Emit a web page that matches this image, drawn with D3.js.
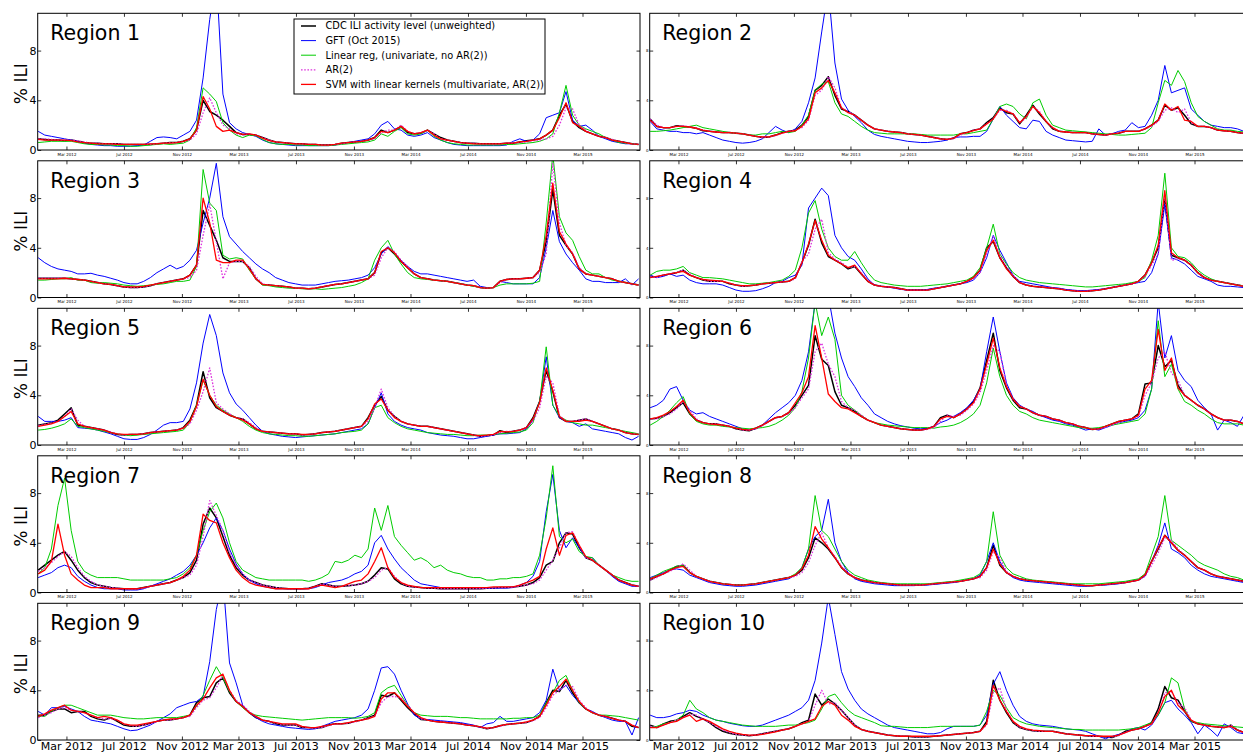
<!DOCTYPE html>
<html>
<head>
<meta charset="utf-8">
<script src="https://cdn.jsdelivr.net/npm/d3@7"></script>
<style>
  body { margin: 0; background: #fff; }
  svg { display: block; font-family: "DejaVu Sans", sans-serif; }
</style>
</head>
<body>
<svg id="chart" width="1243" height="753"></svg>
<script>
// % ILI per region, every 2 weeks starting 1 Jan 2012
const startDate = new Date(2012, 0, 1);
const stepDays = 14;

const seriesKeys = ["cdc", "gft", "lin", "ar2", "svm"];
const seriesNames = [
  "CDC ILI activity level (unweighted)",
  "GFT (Oct 2015)",
  "Linear reg, (univariate, no AR(2))",
  "AR(2)",
  "SVM with linear kernels (multivariate, AR(2))"
];
const regionNames = ["Region 1", "Region 2", "Region 3", "Region 4", "Region 5",
  "Region 6", "Region 7", "Region 8", "Region 9", "Region 10"];
const xTickDates = ["2012-03-01", "2012-07-01", "2012-11-01", "2013-03-01", "2013-07-01",
  "2013-11-01", "2014-03-01", "2014-07-01", "2014-11-01", "2015-03-01"];
const xTickLabels = ["Mar 2012", "Jul 2012", "Nov 2012", "Mar 2013", "Jul 2013",
  "Nov 2013", "Mar 2014", "Jul 2014", "Nov 2014", "Mar 2015"];
const yTicks = [0, 4, 8];

// Region 1
const r1_cdc = [0.9,0.85,0.8,0.8,0.75,0.8,0.7,0.6,0.55,0.55,0.5,0.5,0.5,0.45,0.45,0.45,0.45,0.45,0.5,0.55,0.6,0.6,0.7,
  0.9,1.6,4.0,3.1,2.8,2.4,1.9,1.4,1.25,1.25,1.2,1.0,0.8,0.65,0.6,0.55,0.5,0.5,0.45,0.45,0.4,0.4,0.45,
  0.55,0.6,0.65,0.7,0.8,1.0,1.6,1.4,1.6,1.9,1.4,1.3,1.35,1.6,1.3,1.0,0.8,0.7,0.6,0.55,0.55,0.5,0.5,
  0.5,0.5,0.55,0.55,0.65,0.75,0.8,0.9,1.2,1.6,2.8,3.7,2.3,1.8,1.5,1.3,1.1,1.0,0.8,0.7,0.6,0.5,0.45];
const r1_gft = [1.5,1.2,1.1,1.0,0.9,0.8,0.7,0.55,0.45,0.4,0.35,0.35,0.3,0.3,0.3,0.35,0.4,0.7,1.0,1.05,1.0,0.9,1.2,
  1.5,2.4,5.8,10.5,14.0,4.5,2.2,1.7,1.4,1.25,1.1,0.8,0.6,0.5,0.45,0.4,0.35,0.35,0.35,0.35,0.35,0.35,0.4,
  0.5,0.6,0.7,0.8,0.9,1.3,2.0,2.3,1.7,1.6,1.2,1.1,1.2,1.4,1.0,0.8,0.6,0.45,0.4,0.35,0.35,0.35,0.35,
  0.35,0.35,0.4,0.7,0.9,0.7,0.8,1.3,2.6,2.8,3.0,4.7,2.4,1.9,2.0,1.6,1.1,0.9,0.7,0.6,0.5,0.5,0.45];
const r1_lin = [0.6,0.65,0.7,0.7,0.7,0.7,0.6,0.5,0.45,0.45,0.4,0.4,0.35,0.35,0.3,0.3,0.35,0.4,0.45,0.5,0.45,0.5,0.55,
  0.8,1.8,5.0,4.5,3.9,2.2,1.6,1.2,1.0,1.2,1.15,0.85,0.6,0.5,0.45,0.45,0.4,0.4,0.35,0.35,0.35,0.35,0.4,
  0.45,0.5,0.55,0.6,0.65,0.8,1.3,1.1,1.5,1.8,1.3,1.2,1.3,1.6,1.1,0.8,0.6,0.5,0.45,0.4,0.4,0.4,0.4,
  0.4,0.4,0.45,0.45,0.5,0.55,0.6,0.7,0.9,1.3,3.0,5.2,2.8,2.0,1.7,1.5,1.3,1.0,0.8,0.6,0.55,0.5,0.45];
const r1_ar2 = [0.9,0.9,0.85,0.8,0.8,0.8,0.75,0.65,0.55,0.55,0.5,0.5,0.5,0.45,0.45,0.45,0.45,0.45,0.5,0.55,0.6,0.6,0.7,
  0.8,1.3,3.0,4.2,3.0,2.0,1.7,1.3,1.2,1.3,1.2,1.0,0.8,0.65,0.6,0.55,0.5,0.5,0.45,0.45,0.4,0.4,0.45,
  0.5,0.6,0.65,0.7,0.8,0.9,1.4,1.6,1.6,2.0,1.5,1.3,1.4,1.6,1.3,0.9,0.8,0.7,0.6,0.55,0.55,0.5,0.5,
  0.5,0.5,0.55,0.55,0.6,0.65,0.75,0.8,0.9,1.1,2.0,3.4,3.3,2.0,1.6,1.3,1.1,1.0,0.85,0.7,0.6,0.5,0.45];
const r1_svm = [0.85,0.8,0.8,0.8,0.8,0.75,0.65,0.6,0.55,0.5,0.5,0.5,0.45,0.45,0.45,0.45,0.45,0.5,0.5,0.55,0.55,0.6,0.7,
  0.9,1.6,4.3,3.3,1.9,1.5,1.6,1.4,1.25,1.3,1.2,0.95,0.75,0.65,0.6,0.55,0.5,0.5,0.45,0.45,0.4,0.4,0.45,
  0.55,0.6,0.65,0.7,0.8,1.0,1.5,1.4,1.6,1.9,1.5,1.3,1.4,1.6,1.2,0.9,0.8,0.7,0.6,0.55,0.5,0.5,0.5,
  0.5,0.5,0.55,0.55,0.65,0.7,0.8,0.9,1.2,1.6,2.6,3.8,2.2,1.9,1.5,1.3,1.1,1.0,0.8,0.7,0.6,0.5,0.45];

// Region 2
const r2_cdc = [2.5,1.9,1.8,1.8,1.95,1.9,1.85,1.75,1.55,1.5,1.45,1.4,1.4,1.35,1.3,1.2,1.1,1.0,1.05,1.2,1.4,1.5,1.6,
  2.0,2.7,4.8,5.2,5.9,4.4,3.3,3.1,2.8,2.4,2.0,1.7,1.6,1.5,1.45,1.4,1.3,1.25,1.2,1.1,1.0,0.9,0.85,
  0.95,1.3,1.4,1.6,1.7,2.2,2.6,3.4,3.0,2.9,2.1,2.8,3.6,2.9,2.3,1.7,1.5,1.45,1.4,1.4,1.4,1.3,1.25,
  1.2,1.3,1.35,1.5,1.5,1.5,1.7,2.0,2.4,3.6,3.2,3.4,2.8,2.1,1.9,1.9,1.8,1.6,1.55,1.5,1.4,1.35,1.3];
const r2_gft = [2.3,1.7,1.6,1.5,1.5,1.4,1.4,1.3,1.4,1.2,1.0,0.8,0.7,0.6,0.55,0.6,0.7,0.9,1.4,1.9,1.6,1.4,1.7,
  2.3,3.8,5.8,9.5,13.0,7.0,4.1,3.2,2.7,2.2,1.6,1.25,1.1,1.0,0.9,0.8,0.7,0.65,0.6,0.6,0.65,0.7,0.8,
  1.0,1.05,1.05,1.1,1.1,1.5,2.5,3.5,2.8,2.3,1.8,1.7,2.4,2.3,1.5,1.2,1.0,0.8,0.75,0.7,0.65,0.7,1.7,
  1.2,1.3,1.5,1.6,2.2,1.8,1.9,2.8,4.0,6.8,4.6,4.8,5.0,3.3,2.8,2.3,2.0,1.9,1.8,1.8,1.7,1.5,1.3];
const r2_lin = [1.5,1.5,1.55,1.6,1.7,1.8,1.9,2.0,1.8,1.7,1.6,1.5,1.4,1.35,1.3,1.2,1.2,1.3,1.3,1.4,1.5,1.4,1.5,
  2.0,2.8,4.8,5.3,5.5,3.8,2.9,2.7,2.3,1.9,1.6,1.4,1.35,1.3,1.3,1.3,1.3,1.3,1.25,1.2,1.2,1.2,1.2,
  1.2,1.3,1.3,1.4,1.5,1.6,2.5,3.5,3.7,3.5,2.9,2.5,3.8,4.1,2.8,2.0,1.8,1.6,1.55,1.5,1.45,1.4,1.35,
  1.3,1.25,1.2,1.2,1.25,1.3,1.35,1.8,3.8,5.6,5.2,6.4,5.5,3.8,2.7,2.3,2.0,1.7,1.6,1.6,1.5,1.45,1.4];
const r2_ar2 = [2.5,2.0,1.8,1.8,1.9,1.95,1.85,1.75,1.6,1.5,1.45,1.4,1.4,1.35,1.3,1.2,1.1,1.0,1.05,1.15,1.35,1.5,1.6,
  1.8,2.4,4.4,4.8,5.9,5.0,3.4,3.1,2.8,2.4,2.0,1.7,1.6,1.5,1.45,1.4,1.3,1.25,1.2,1.1,1.0,0.9,0.85,
  0.9,1.2,1.4,1.6,1.7,2.1,2.5,3.2,3.2,2.9,2.2,2.6,3.5,3.1,2.3,1.8,1.5,1.45,1.4,1.4,1.4,1.3,1.25,
  1.2,1.3,1.35,1.5,1.5,1.5,1.7,1.9,2.3,3.2,3.4,3.0,3.3,2.2,1.9,1.9,1.8,1.6,1.55,1.5,1.4,1.35,1.3];
const r2_svm = [2.4,1.9,1.8,1.8,1.9,1.9,1.85,1.75,1.6,1.5,1.45,1.4,1.4,1.35,1.3,1.2,1.1,1.05,1.05,1.2,1.35,1.5,1.55,
  1.9,2.5,4.6,5.0,5.6,4.6,3.4,3.0,2.8,2.4,2.0,1.7,1.6,1.5,1.45,1.4,1.3,1.25,1.2,1.1,1.0,0.9,0.85,
  0.95,1.3,1.4,1.55,1.7,2.1,2.5,3.3,3.1,2.9,2.2,2.7,3.5,3.0,2.3,1.8,1.5,1.45,1.4,1.4,1.4,1.3,1.25,
  1.2,1.3,1.35,1.5,1.5,1.5,1.7,2.0,2.4,3.7,3.2,3.5,2.4,2.3,1.9,1.9,1.8,1.6,1.55,1.5,1.4,1.35,1.3];

// Region 3
const r3_cdc = [1.55,1.55,1.55,1.55,1.55,1.5,1.45,1.4,1.3,1.2,1.1,1.05,0.95,0.85,0.8,0.8,0.85,0.95,1.1,1.2,1.3,1.4,1.5,
  1.8,2.6,7.0,5.8,4.6,3.2,2.9,2.9,2.9,2.4,1.5,1.05,1.0,0.95,0.9,0.85,0.75,0.75,0.7,0.75,0.85,0.95,1.05,
  1.1,1.2,1.3,1.4,1.5,2.0,3.6,4.0,3.5,2.9,2.4,1.9,1.6,1.5,1.4,1.35,1.3,1.2,1.1,1.0,0.95,0.8,0.75,
  0.8,1.3,1.45,1.5,1.5,1.55,1.6,2.2,4.5,8.7,5.0,4.2,3.5,2.3,1.9,1.8,1.7,1.6,1.5,1.3,1.2,1.1,1.0];
const r3_gft = [3.2,2.8,2.5,2.3,2.2,2.1,1.9,1.9,1.95,1.8,1.7,1.55,1.4,1.2,1.1,1.1,1.3,1.6,2.0,2.3,2.6,2.3,2.5,
  3.0,3.8,6.0,8.0,10.8,6.5,4.9,4.3,3.7,3.2,2.7,2.3,2.0,1.6,1.4,1.2,1.1,1.0,1.0,1.0,1.1,1.2,1.3,
  1.35,1.4,1.5,1.6,1.8,2.4,3.5,4.1,3.6,3.0,2.5,2.1,1.9,1.9,1.8,1.7,1.6,1.5,1.4,1.3,1.4,0.9,0.8,
  0.8,1.3,1.2,1.1,1.1,1.1,1.1,1.6,4.0,7.0,4.5,3.5,2.8,2.2,1.5,1.3,1.3,1.2,1.2,1.2,1.5,1.0,1.5];
const r3_lin = [1.4,1.4,1.45,1.5,1.5,1.6,1.4,1.4,1.2,1.15,1.2,1.15,1.1,1.0,0.95,0.9,0.95,1.0,1.05,1.1,1.2,1.3,1.3,
  1.4,2.5,10.3,7.6,7.0,3.4,3.1,3.2,3.1,2.2,1.5,1.0,0.95,0.85,0.8,0.75,0.75,0.7,0.7,0.7,0.65,0.7,0.75,
  0.8,0.9,1.0,1.2,1.5,3.0,4.0,4.6,3.5,2.7,2.0,1.6,1.5,1.45,1.4,1.35,1.3,1.2,1.1,1.0,0.9,0.8,0.75,
  0.8,1.0,1.1,1.1,1.1,1.1,1.15,1.3,6.0,11.5,6.5,5.2,4.6,3.3,2.2,1.9,1.9,1.6,1.4,1.3,1.2,1.1,1.0];
const r3_ar2 = [1.55,1.55,1.55,1.55,1.55,1.5,1.45,1.4,1.3,1.2,1.1,1.05,0.95,0.85,0.8,0.8,0.85,0.95,1.1,1.2,1.3,1.4,1.5,
  1.6,2.2,5.0,7.5,4.5,1.5,2.8,2.9,2.9,2.5,1.7,1.1,1.0,0.95,0.9,0.85,0.75,0.75,0.7,0.75,0.85,0.95,1.05,
  1.1,1.2,1.3,1.4,1.5,1.8,3.2,4.0,3.7,3.0,2.5,1.9,1.6,1.5,1.4,1.35,1.3,1.2,1.1,1.0,0.95,0.8,0.75,
  0.8,1.2,1.45,1.5,1.5,1.55,1.6,2.0,3.5,10.8,6.0,4.2,3.6,2.4,1.9,1.8,1.7,1.6,1.5,1.3,1.2,1.1,1.0];
const r3_svm = [1.5,1.5,1.5,1.5,1.55,1.5,1.45,1.4,1.3,1.2,1.1,1.05,0.95,0.85,0.85,0.85,0.9,1.0,1.1,1.2,1.3,1.4,1.5,
  1.8,2.6,8.0,6.0,3.0,2.8,2.8,3.0,3.0,2.3,1.5,1.05,1.0,0.95,0.9,0.85,0.75,0.75,0.7,0.75,0.85,0.95,1.05,
  1.1,1.2,1.3,1.4,1.5,2.0,3.7,4.0,3.6,2.9,2.4,1.9,1.6,1.5,1.4,1.35,1.3,1.2,1.1,1.0,0.95,0.8,0.75,
  0.8,1.3,1.45,1.5,1.5,1.55,1.6,2.2,5.0,9.2,5.3,4.3,3.5,2.3,1.9,1.8,1.7,1.6,1.5,1.3,1.2,1.1,1.0];

// Region 4
const r4_cdc = [1.7,1.65,1.8,1.9,2.0,2.2,1.8,1.6,1.4,1.3,1.3,1.3,1.1,1.0,0.9,0.95,1.0,1.1,1.15,1.2,1.25,1.3,1.6,
  2.8,4.2,6.3,4.4,3.3,3.0,2.7,2.3,2.5,1.9,1.3,1.0,0.9,0.85,0.8,0.7,0.6,0.6,0.6,0.6,0.7,0.8,0.9,
  1.0,1.1,1.3,1.6,2.2,4.0,4.5,3.2,2.4,1.7,1.2,1.0,0.9,0.85,0.8,0.75,0.7,0.6,0.55,0.5,0.5,0.55,0.6,
  0.7,0.8,0.9,1.0,1.1,1.3,1.8,2.8,4.0,7.9,3.4,3.2,3.0,2.6,2.0,1.6,1.4,1.3,1.2,1.1,1.0,0.9,0.8];
const r4_gft = [1.8,1.6,1.7,1.9,1.7,1.8,1.4,1.2,1.1,1.1,1.1,1.0,0.8,0.6,0.5,0.5,0.55,0.7,0.9,1.2,1.3,1.6,1.8,
  2.6,7.2,8.0,8.8,8.2,5.0,4.0,3.3,3.0,2.3,1.5,1.0,0.9,0.85,0.75,0.65,0.6,0.6,0.6,0.65,0.75,0.8,0.9,
  1.0,1.1,1.2,1.4,2.0,3.2,5.0,3.8,2.8,1.8,1.3,1.2,1.1,1.0,0.9,0.8,0.75,0.65,0.6,0.55,0.55,0.6,0.65,
  0.7,0.8,0.9,1.0,1.1,1.2,1.3,2.0,3.5,7.5,3.2,3.0,2.7,2.2,1.7,1.5,1.3,1.0,0.9,0.9,0.85,0.8,0.8];
const r4_lin = [1.8,2.1,2.2,2.2,2.3,2.5,2.0,1.8,1.6,1.6,1.55,1.5,1.4,1.3,1.2,1.1,1.1,1.15,1.2,1.3,1.4,1.7,2.2,
  4.0,6.8,7.8,5.5,4.0,3.3,3.0,3.0,3.7,2.8,2.0,1.4,1.2,1.1,1.0,0.95,0.9,0.9,0.9,0.95,1.0,1.05,1.1,
  1.2,1.3,1.4,1.7,2.4,4.0,5.9,3.5,2.7,2.0,1.6,1.4,1.3,1.2,1.15,1.1,1.05,1.0,0.95,0.9,0.85,0.85,0.9,
  0.95,1.0,1.05,1.1,1.2,1.3,1.6,3.0,5.0,10.0,4.0,3.3,3.2,2.8,2.2,1.8,1.5,1.3,1.2,1.1,1.0,0.95,0.9];
const r4_ar2 = [1.7,1.6,1.8,1.9,2.0,2.2,1.9,1.6,1.45,1.3,1.3,1.3,1.15,1.0,0.9,0.95,1.0,1.1,1.15,1.2,1.25,1.3,1.5,
  2.9,3.5,5.5,6.3,3.6,3.1,2.8,2.4,2.5,2.0,1.4,1.0,0.9,0.85,0.8,0.7,0.6,0.6,0.6,0.6,0.7,0.8,0.9,
  1.0,1.1,1.3,1.5,2.0,3.5,4.9,3.4,2.5,1.8,1.2,1.0,0.9,0.85,0.8,0.75,0.7,0.6,0.55,0.5,0.5,0.55,0.6,
  0.7,0.8,0.9,1.0,1.1,1.3,1.7,2.6,3.5,8.3,3.0,3.1,3.0,2.6,2.0,1.6,1.4,1.3,1.2,1.1,1.0,0.9,0.8];
const r4_svm = [1.6,1.7,1.8,1.9,2.0,2.1,1.8,1.6,1.45,1.4,1.35,1.3,1.15,1.0,0.95,0.95,1.0,1.1,1.15,1.2,1.25,1.3,1.6,
  2.8,4.3,6.2,4.6,3.4,3.0,2.7,2.4,2.6,1.9,1.3,1.0,0.9,0.85,0.8,0.7,0.6,0.6,0.6,0.6,0.7,0.8,0.9,
  1.0,1.1,1.3,1.6,2.2,3.8,4.6,3.2,2.3,1.7,1.2,1.0,0.9,0.85,0.8,0.75,0.7,0.6,0.55,0.5,0.5,0.55,0.6,
  0.7,0.8,0.9,1.0,1.1,1.3,1.8,2.8,4.2,8.6,3.6,3.2,3.0,2.6,2.0,1.6,1.4,1.3,1.2,1.1,1.0,0.9,0.8];

// Region 5
const r5_cdc = [1.6,1.7,1.8,2.0,2.5,3.0,1.6,1.5,1.4,1.3,1.2,1.0,0.85,0.8,0.85,0.85,0.9,1.0,1.05,1.1,1.15,1.2,1.4,
  2.0,3.2,5.9,3.8,3.0,2.7,2.4,2.2,2.1,1.7,1.3,1.1,1.05,1.0,0.95,0.9,0.9,0.8,0.85,0.9,1.0,1.05,1.1,
  1.2,1.3,1.4,1.5,2.2,3.2,3.9,2.8,2.3,1.9,1.7,1.6,1.5,1.5,1.4,1.3,1.2,1.1,1.0,0.9,0.8,0.7,0.75,
  0.8,1.15,1.0,1.1,1.2,1.4,2.2,3.5,6.0,4.3,2.2,1.9,1.9,2.0,2.1,1.9,1.7,1.5,1.3,1.2,1.0,0.9,0.85];
const r5_gft = [2.3,1.9,1.9,1.9,2.0,2.2,1.4,1.35,1.3,1.2,1.05,0.9,0.7,0.5,0.45,0.45,0.6,0.85,1.2,1.6,1.8,1.8,1.9,
  2.9,5.0,8.2,10.5,8.8,5.8,4.2,3.3,2.8,2.2,1.6,1.1,0.9,0.8,0.7,0.65,0.6,0.65,0.7,0.75,0.8,0.85,0.9,
  1.0,1.1,1.2,1.3,1.7,3.0,4.2,2.5,1.9,1.6,1.4,1.3,1.2,1.0,0.9,0.8,0.75,0.7,0.6,0.5,0.5,0.6,0.7,
  0.8,0.9,0.9,0.95,1.0,1.3,2.0,3.5,7.1,3.2,2.2,1.9,1.8,1.5,1.7,1.3,1.2,1.1,1.0,0.9,0.6,0.4,0.7];
const r5_lin = [1.2,1.25,1.35,1.5,1.7,2.1,1.5,1.4,1.3,1.2,1.1,1.0,0.9,0.8,0.75,0.8,0.85,0.9,0.95,1.0,1.05,1.1,1.2,
  1.8,3.2,5.2,4.0,3.2,2.8,2.5,2.2,1.9,1.5,1.2,1.0,0.9,0.85,0.8,0.75,0.75,0.7,0.7,0.75,0.8,0.85,0.9,
  1.0,1.05,1.1,1.2,1.7,3.0,3.2,2.2,1.8,1.5,1.3,1.2,1.1,1.0,0.95,0.9,0.85,0.85,0.8,0.75,0.75,0.8,0.8,
  0.85,0.9,0.95,1.0,1.05,1.2,1.8,3.5,7.9,3.2,2.3,2.0,1.8,1.7,1.6,1.6,1.5,1.4,1.3,1.2,1.1,1.0,0.9];
const r5_ar2 = [1.55,1.65,1.75,1.9,2.3,2.9,2.0,1.5,1.4,1.3,1.2,1.05,0.9,0.8,0.85,0.85,0.9,1.0,1.05,1.1,1.15,1.2,1.35,
  1.7,2.8,4.3,6.2,3.4,2.9,2.5,2.2,2.1,1.8,1.4,1.1,1.05,1.0,0.95,0.9,0.9,0.8,0.85,0.9,1.0,1.05,1.1,
  1.2,1.3,1.4,1.5,1.9,3.0,4.5,3.0,2.3,1.9,1.7,1.6,1.5,1.5,1.4,1.3,1.2,1.1,1.0,0.9,0.8,0.7,0.75,
  0.8,1.0,1.1,1.1,1.2,1.4,1.9,3.0,5.5,5.0,2.4,1.9,1.9,2.0,2.1,1.9,1.7,1.5,1.3,1.2,1.0,0.9,0.85];
const r5_svm = [1.5,1.6,1.7,1.9,2.3,2.7,1.7,1.5,1.4,1.3,1.2,1.0,0.9,0.85,0.85,0.85,0.9,1.0,1.05,1.1,1.15,1.2,1.35,
  1.9,3.1,5.3,4.0,3.1,2.7,2.4,2.2,2.0,1.7,1.3,1.1,1.05,1.0,0.95,0.9,0.9,0.85,0.85,0.9,1.0,1.05,1.1,
  1.2,1.3,1.4,1.5,2.1,3.3,3.7,2.8,2.2,1.9,1.7,1.6,1.5,1.5,1.4,1.3,1.2,1.1,1.0,0.9,0.8,0.75,0.8,
  0.85,1.1,1.05,1.1,1.2,1.4,2.1,3.4,6.2,4.4,2.3,1.9,1.9,1.9,2.0,1.9,1.7,1.5,1.3,1.2,1.0,0.9,0.85];

// Region 6
const r6_cdc = [2.1,2.15,2.3,2.6,3.0,3.4,2.5,2.0,1.8,1.7,1.7,1.6,1.5,1.3,1.2,1.15,1.35,1.6,1.9,2.2,2.3,2.6,3.2,
  4.0,4.8,8.8,6.9,6.4,4.3,3.2,3.0,2.7,2.3,2.0,1.8,1.6,1.5,1.4,1.3,1.25,1.2,1.2,1.3,1.5,2.2,2.4,
  2.2,2.5,2.9,3.5,4.6,6.8,9.0,6.0,4.6,3.6,3.0,2.9,2.6,2.4,2.3,2.1,2.0,1.8,1.7,1.5,1.4,1.25,1.3,
  1.5,1.7,1.9,2.0,2.1,2.5,4.9,5.0,8.0,6.3,6.8,4.8,4.0,3.6,3.2,2.9,2.5,2.2,2.0,2.0,1.9,1.7,1.6];
const r6_gft = [3.0,3.2,3.6,4.5,4.7,3.6,2.8,2.5,2.6,2.3,2.1,1.9,1.7,1.5,1.3,1.2,1.3,1.6,2.1,2.6,3.0,3.4,4.0,
  5.2,7.5,11.5,14.0,12.0,9.0,7.0,5.5,4.7,3.8,3.2,2.5,2.2,1.9,1.7,1.55,1.45,1.35,1.3,1.35,1.5,1.8,2.0,
  2.3,2.6,3.0,3.6,4.5,7.5,10.3,7.5,5.0,3.8,3.2,2.9,2.7,2.4,2.2,2.0,1.9,1.7,1.6,1.4,1.2,1.3,1.2,
  1.4,1.6,1.8,1.9,2.0,2.2,2.8,4.5,11.5,7.0,8.8,6.0,5.2,4.7,3.6,3.0,2.5,1.2,2.0,1.8,1.5,2.4,2.0];
const r6_lin = [1.6,1.9,2.3,2.8,3.4,3.9,2.5,1.9,1.7,1.6,1.6,1.5,1.45,1.4,1.35,1.3,1.35,1.4,1.5,1.7,2.0,2.4,3.0,
  4.3,7.0,11.5,8.8,10.3,8.5,4.0,3.2,2.8,2.4,2.0,1.8,1.7,1.6,1.55,1.5,1.45,1.4,1.4,1.4,1.35,1.45,1.5,
  1.6,1.8,2.1,2.5,3.2,5.0,7.8,5.5,4.0,3.2,2.7,2.5,2.2,2.0,1.9,1.8,1.7,1.6,1.5,1.4,1.35,1.35,1.4,
  1.5,1.6,1.7,1.8,1.9,2.0,2.5,4.5,10.0,5.5,6.5,4.5,3.5,3.2,2.8,2.5,2.1,1.8,1.7,1.7,1.7,1.6,1.5];
const r6_ar2 = [2.1,2.1,2.3,2.5,2.9,3.5,2.8,2.1,1.8,1.7,1.7,1.6,1.5,1.35,1.2,1.2,1.3,1.55,1.9,2.2,2.3,2.5,3.0,
  3.8,4.5,7.5,8.2,6.5,5.5,3.5,3.0,2.8,2.4,2.0,1.8,1.6,1.5,1.4,1.3,1.25,1.2,1.2,1.25,1.4,1.9,2.4,
  2.3,2.4,2.8,3.3,4.2,6.0,8.0,7.5,4.8,3.7,3.1,2.9,2.6,2.4,2.3,2.1,2.0,1.8,1.7,1.5,1.4,1.25,1.3,
  1.4,1.6,1.8,2.0,2.1,2.3,4.0,5.0,7.0,7.5,5.8,5.2,4.0,3.6,3.2,2.9,2.5,2.2,2.0,2.0,1.9,1.7,1.6];
const r6_svm = [2.1,2.2,2.4,2.7,3.1,3.6,2.6,2.0,1.8,1.7,1.65,1.6,1.5,1.35,1.25,1.2,1.35,1.6,1.9,2.2,2.3,2.6,3.4,
  4.2,5.5,9.6,7.0,4.1,3.5,3.0,2.9,2.6,2.3,2.0,1.8,1.6,1.5,1.4,1.3,1.25,1.2,1.2,1.3,1.5,2.1,2.3,
  2.2,2.5,2.9,3.4,4.5,6.5,8.6,6.2,4.7,3.7,3.1,2.9,2.6,2.4,2.3,2.1,2.0,1.8,1.7,1.5,1.4,1.25,1.3,
  1.5,1.7,1.9,2.0,2.1,2.4,4.5,5.2,9.3,6.0,7.0,4.6,4.0,3.6,3.2,2.9,2.5,2.2,2.0,2.0,1.9,1.7,1.6];

// Region 7
const r7_cdc = [1.8,2.2,2.6,3.0,3.3,2.6,1.8,1.2,0.8,0.6,0.5,0.4,0.35,0.3,0.3,0.3,0.4,0.5,0.6,0.7,0.8,1.0,1.2,
  1.6,2.6,5.5,6.8,6.0,4.5,3.0,2.0,1.4,1.0,0.8,0.6,0.5,0.4,0.35,0.3,0.3,0.3,0.35,0.5,0.7,0.6,0.5,
  0.5,0.55,0.6,0.7,0.9,1.4,2.0,1.9,1.1,0.7,0.5,0.45,0.4,0.35,0.35,0.3,0.3,0.3,0.3,0.3,0.3,0.3,0.35,
  0.35,0.4,0.4,0.45,0.5,0.6,0.8,1.2,2.2,2.5,4.0,4.8,4.7,3.6,2.8,2.6,2.2,1.8,1.4,1.0,0.8,0.6,0.5];
const r7_gft = [1.2,1.4,1.6,2.0,2.2,2.0,1.3,0.9,0.6,0.4,0.3,0.3,0.3,0.2,0.2,0.2,0.3,0.5,0.7,0.9,1.1,1.4,1.7,
  2.2,3.0,4.0,5.2,6.0,5.0,3.5,2.3,1.5,1.0,0.7,0.5,0.4,0.3,0.3,0.3,0.3,0.3,0.3,0.4,0.6,0.8,0.9,
  1.0,1.2,1.5,1.7,2.2,4.0,4.6,3.5,2.7,2.0,1.5,1.0,0.7,0.6,0.5,0.4,0.4,0.4,0.4,0.4,0.4,0.35,0.35,
  0.35,0.35,0.35,0.4,0.6,0.8,1.3,2.5,6.5,9.5,5.0,3.6,4.4,3.6,2.8,2.8,2.2,1.8,1.3,0.9,0.7,0.5,0.5];
const r7_lin = [1.5,2.0,3.5,7.0,9.2,5.0,2.5,1.7,1.4,1.2,1.2,1.2,1.2,1.1,1.0,1.0,1.0,1.0,1.0,1.0,1.1,1.2,1.5,
  2.0,3.0,5.0,6.5,7.2,6.0,4.0,2.5,1.8,1.5,1.2,1.1,1.0,1.0,1.0,1.0,1.0,1.0,0.9,1.0,1.2,1.5,2.5,
  2.4,2.6,3.0,2.8,3.5,6.8,5.0,7.0,4.5,3.8,3.2,2.6,2.8,2.5,2.0,2.2,1.8,1.6,1.5,1.3,1.2,1.2,1.0,
  1.0,1.1,1.1,1.2,1.2,1.3,1.5,3.0,6.0,10.2,4.5,4.0,4.3,3.3,2.9,2.8,2.2,1.8,1.4,1.2,1.0,0.9,0.9];
const r7_ar2 = [1.7,2.0,2.4,2.9,3.3,2.9,2.0,1.3,0.9,0.6,0.5,0.4,0.35,0.3,0.3,0.3,0.35,0.5,0.6,0.7,0.8,1.0,1.2,
  1.4,2.2,4.5,7.4,6.2,5.0,3.2,2.2,1.5,1.0,0.8,0.6,0.5,0.4,0.35,0.3,0.3,0.3,0.35,0.5,0.7,0.6,0.5,
  0.5,0.55,0.6,0.7,0.9,1.2,1.8,2.0,1.3,0.8,0.5,0.45,0.4,0.35,0.35,0.3,0.3,0.3,0.3,0.3,0.3,0.3,0.35,
  0.35,0.4,0.4,0.45,0.5,0.6,0.7,1.0,1.8,2.6,3.6,4.8,4.9,3.8,2.8,2.6,2.2,1.8,1.4,1.0,0.8,0.6,0.5];
const r7_svm = [1.5,1.8,2.5,5.5,3.0,1.5,1.0,0.6,0.4,0.4,0.4,0.3,0.3,0.3,0.3,0.3,0.4,0.5,0.6,0.7,0.8,1.0,1.3,
  1.8,3.0,6.3,5.8,5.6,4.0,2.8,1.8,1.2,0.8,0.6,0.5,0.4,0.3,0.3,0.3,0.3,0.3,0.3,0.5,0.6,0.5,0.4,
  0.5,0.7,0.9,1.0,1.5,2.5,3.6,2.0,1.2,0.8,0.6,0.5,0.4,0.4,0.4,0.4,0.4,0.4,0.4,0.4,0.4,0.4,0.4,
  0.45,0.45,0.45,0.45,0.6,0.8,1.0,1.3,3.5,5.2,3.0,4.6,4.8,3.8,2.9,2.6,2.2,1.8,1.4,1.0,0.8,0.6,0.5];

// Region 8
const r8_cdc = [1.0,1.3,1.5,1.8,2.1,2.2,1.6,1.3,1.1,0.9,0.8,0.7,0.65,0.6,0.6,0.65,0.7,0.8,0.9,1.0,1.1,1.2,1.4,
  1.8,2.8,4.4,4.0,3.5,2.8,2.0,1.5,1.2,1.0,0.9,0.8,0.75,0.7,0.65,0.6,0.6,0.6,0.6,0.65,0.7,0.75,0.8,
  0.85,0.9,1.0,1.1,1.3,2.0,3.8,2.2,1.6,1.3,1.1,1.0,0.95,0.9,0.85,0.8,0.75,0.7,0.65,0.6,0.55,0.55,0.6,
  0.65,0.7,0.75,0.8,0.9,1.0,1.4,2.5,3.5,4.6,4.0,3.4,3.0,2.5,2.0,1.8,1.5,1.3,1.2,1.1,1.0,0.9,0.8];
const r8_gft = [1.2,1.4,1.6,1.8,1.9,1.8,1.4,1.2,1.0,0.8,0.7,0.6,0.55,0.5,0.5,0.55,0.6,0.7,0.8,0.9,1.0,1.1,1.4,
  2.0,3.5,4.5,5.0,7.5,4.0,2.5,1.6,1.1,0.9,0.8,0.7,0.65,0.6,0.55,0.55,0.55,0.55,0.6,0.6,0.65,0.7,0.75,
  0.8,0.9,1.0,1.1,1.4,2.5,4.0,2.5,1.6,1.2,1.0,0.9,0.85,0.8,0.75,0.7,0.65,0.6,0.55,0.5,0.5,0.55,0.6,
  0.6,0.65,0.7,0.8,0.9,1.0,1.3,2.5,3.8,5.6,3.5,3.2,2.8,2.2,1.8,1.5,1.3,1.2,1.1,1.0,0.9,0.8,0.8];
const r8_lin = [1.1,1.4,1.7,1.9,2.1,2.2,1.6,1.3,1.1,0.9,0.8,0.7,0.65,0.6,0.6,0.65,0.7,0.8,0.9,1.0,1.1,1.2,1.5,
  2.0,3.5,7.8,5.0,4.5,3.5,2.5,1.8,1.4,1.2,1.0,0.9,0.8,0.75,0.7,0.7,0.7,0.7,0.7,0.7,0.75,0.8,0.85,
  0.9,1.0,1.1,1.2,1.5,2.5,6.5,3.0,2.0,1.5,1.3,1.1,1.0,0.95,0.9,0.85,0.8,0.75,0.7,0.7,0.7,0.7,0.7,
  0.75,0.8,0.85,0.9,1.0,1.1,1.5,3.0,4.5,7.8,4.2,3.8,3.4,3.0,2.5,2.2,2.0,1.8,1.5,1.3,1.2,1.0,0.9];
const r8_ar2 = [1.0,1.2,1.5,1.7,2.0,2.3,1.8,1.3,1.1,0.9,0.8,0.7,0.65,0.6,0.6,0.65,0.7,0.8,0.9,1.0,1.1,1.2,1.3,
  1.6,2.4,3.8,4.8,3.6,2.9,2.1,1.6,1.2,1.0,0.9,0.8,0.75,0.7,0.65,0.6,0.6,0.6,0.6,0.65,0.7,0.75,0.8,
  0.85,0.9,1.0,1.1,1.2,1.8,3.3,2.8,1.7,1.3,1.1,1.0,0.95,0.9,0.85,0.8,0.75,0.7,0.65,0.6,0.55,0.55,0.6,
  0.65,0.7,0.75,0.8,0.9,1.0,1.3,2.2,3.2,4.4,4.2,3.5,3.0,2.5,2.0,1.8,1.5,1.3,1.2,1.1,1.0,0.9,0.8];
const r8_svm = [1.1,1.3,1.5,1.8,2.0,2.1,1.6,1.3,1.1,0.9,0.8,0.7,0.65,0.6,0.6,0.65,0.7,0.8,0.9,1.0,1.1,1.2,1.4,
  1.9,3.0,5.3,4.3,3.6,2.8,2.0,1.5,1.2,1.0,0.9,0.8,0.75,0.7,0.65,0.6,0.6,0.6,0.6,0.65,0.7,0.75,0.8,
  0.85,0.9,1.0,1.1,1.3,2.0,3.5,2.3,1.6,1.3,1.1,1.0,0.95,0.9,0.85,0.8,0.75,0.7,0.65,0.6,0.55,0.55,0.6,
  0.65,0.7,0.75,0.8,0.9,1.0,1.4,2.5,3.6,4.6,4.0,3.4,3.0,2.5,2.0,1.8,1.5,1.3,1.2,1.1,1.0,0.9,0.8];

// Region 9
const r9_cdc = [2.0,2.0,2.3,2.5,2.5,2.2,2.3,2.3,1.9,1.7,1.6,1.8,1.5,1.2,1.1,1.1,1.2,1.35,1.5,1.6,1.6,1.7,1.8,
  2.0,3.0,3.4,3.5,4.6,5.0,3.8,3.1,2.7,2.2,1.8,1.6,1.5,1.3,1.2,1.2,1.2,1.0,1.0,0.95,1.0,1.2,1.3,
  1.3,1.35,1.5,1.6,1.8,2.0,3.6,3.5,3.8,3.2,2.6,2.1,1.65,1.6,1.5,1.45,1.4,1.35,1.3,1.2,1.15,1.05,0.9,
  1.0,1.15,1.25,1.3,1.35,1.4,1.6,1.9,3.0,4.0,3.9,4.8,3.8,3.0,2.5,2.2,2.0,1.9,1.75,1.6,1.5,1.1,1.0];
const r9_gft = [2.3,2.0,2.6,2.6,2.7,2.5,2.3,1.9,1.6,1.5,1.4,1.3,1.1,0.9,0.75,0.8,1.0,1.2,1.5,1.8,2.1,2.6,2.8,
  3.0,3.1,3.5,6.3,10.5,13.0,6.2,4.6,2.8,2.2,1.8,1.5,1.3,1.2,1.1,1.0,0.95,0.9,0.85,0.9,1.1,1.3,1.5,
  1.6,1.7,1.8,2.0,2.5,4.0,5.8,5.9,5.3,4.0,2.9,2.0,1.7,1.65,1.6,1.55,1.5,1.45,1.4,1.3,1.2,1.0,1.3,
  1.4,1.9,1.5,1.5,1.6,1.7,1.8,2.2,3.2,5.7,4.0,4.4,3.6,3.0,2.5,2.3,2.0,1.8,1.6,1.5,1.5,0.4,1.8];
const r9_lin = [1.9,1.9,2.3,2.6,2.8,2.8,2.6,2.4,2.2,2.0,2.0,2.0,1.9,1.8,1.75,1.7,1.7,1.75,1.8,1.8,1.8,1.8,1.9,
  2.0,2.7,3.6,4.8,5.9,5.0,3.9,3.1,2.6,2.2,2.0,1.9,1.85,1.8,1.75,1.7,1.65,1.6,1.65,1.7,1.75,1.8,1.8,
  1.8,1.8,1.75,1.8,1.9,2.2,3.8,4.2,4.4,3.6,2.8,2.2,2.0,1.95,1.9,1.9,1.9,1.85,1.8,1.8,1.75,1.7,1.7,
  1.7,1.7,1.7,1.75,1.75,1.8,1.8,2.0,3.0,3.8,4.8,5.2,4.0,3.0,2.5,2.2,2.0,2.0,1.95,1.9,1.8,1.7,1.6];
const r9_ar2 = [1.8,2.0,2.2,2.5,2.6,2.4,2.3,2.2,2.0,1.8,1.7,1.7,1.6,1.3,1.15,1.1,1.2,1.3,1.5,1.6,1.6,1.7,1.8,
  1.9,2.6,3.2,3.4,4.2,5.2,4.0,3.2,2.8,2.3,1.9,1.6,1.5,1.35,1.25,1.2,1.2,1.05,1.0,0.95,1.0,1.15,1.3,
  1.3,1.35,1.45,1.6,1.75,1.9,3.0,3.5,3.5,3.4,2.8,2.2,1.7,1.6,1.5,1.45,1.4,1.35,1.3,1.2,1.15,1.05,0.9,
  1.0,1.1,1.25,1.3,1.35,1.4,1.55,1.8,2.6,3.6,4.0,4.4,4.3,3.2,2.6,2.2,2.0,1.9,1.75,1.6,1.5,1.2,1.0];
const r9_svm = [1.9,2.1,2.4,2.6,2.8,2.4,2.3,2.2,2.0,1.8,1.9,1.8,1.6,1.3,1.2,1.2,1.3,1.4,1.5,1.6,1.7,1.7,1.8,
  2.0,2.8,3.3,4.2,5.0,5.3,4.0,3.1,2.7,2.2,1.9,1.6,1.5,1.4,1.3,1.3,1.3,1.1,1.0,1.0,1.1,1.2,1.3,
  1.3,1.4,1.5,1.6,1.7,1.9,3.3,3.8,3.8,3.3,2.7,2.2,1.8,1.6,1.5,1.45,1.4,1.35,1.3,1.2,1.15,1.05,0.95,
  1.0,1.15,1.25,1.3,1.35,1.45,1.6,1.9,2.8,3.8,4.3,4.9,4.0,3.1,2.5,2.2,2.0,1.9,1.75,1.6,1.5,1.2,1.0];

// Region 10
const r10_cdc = [1.2,1.0,1.3,1.5,1.6,1.9,2.2,1.9,1.7,1.4,1.0,0.7,0.55,0.45,0.4,0.35,0.4,0.5,0.6,0.7,0.8,0.9,1.1,
  1.4,1.6,3.7,2.8,3.3,2.9,2.4,1.8,1.2,0.85,0.7,0.6,0.5,0.4,0.35,0.3,0.3,0.25,0.25,0.25,0.3,0.35,0.4,
  0.45,0.5,0.55,0.6,0.7,1.5,4.8,3.2,2.2,1.4,1.0,0.85,0.75,0.7,0.7,0.7,0.6,0.5,0.45,0.4,0.35,0.3,0.3,
  0.25,0.2,0.4,0.7,0.8,0.9,1.1,1.4,2.5,4.3,3.4,3.2,2.3,1.5,1.3,1.2,1.1,1.05,1.0,1.2,0.8,0.6,0.5];
const r10_gft = [2.0,1.8,1.8,1.9,2.1,2.2,2.4,2.3,2.0,1.8,1.6,1.5,1.35,1.25,1.15,1.1,1.1,1.2,1.4,1.6,1.8,2.0,2.3,
  2.6,3.2,4.8,7.8,11.5,8.5,5.5,4.1,3.2,2.5,2.1,1.8,1.5,1.2,1.0,0.9,0.8,0.7,0.6,0.5,0.5,0.6,0.9,
  1.1,1.1,1.1,1.1,1.2,2.0,4.5,5.5,4.0,2.8,1.9,1.5,1.3,1.2,1.15,1.1,1.0,0.9,0.85,0.8,0.7,0.5,0.3,
  0.1,0.3,0.45,0.6,0.9,1.0,0.8,1.2,2.0,3.0,3.2,2.5,2.0,1.4,0.5,1.2,0.8,0.3,1.3,1.0,0.6,0.5,0.5];
const r10_lin = [1.0,1.1,1.3,1.4,1.6,2.0,3.2,2.5,2.2,1.8,1.6,1.5,1.4,1.3,1.2,1.15,1.1,1.1,1.1,1.1,1.15,1.2,1.2,
  1.3,1.4,1.6,2.5,3.5,3.7,3.0,2.4,2.0,1.8,1.6,1.4,1.15,1.1,1.1,1.05,1.0,1.0,1.0,1.0,1.05,1.1,1.1,
  1.1,1.1,1.1,1.1,1.2,2.3,4.0,3.6,2.6,1.8,1.5,1.3,1.2,1.1,1.05,1.0,0.95,0.9,0.85,0.85,0.8,0.8,0.8,
  0.8,0.8,0.8,0.85,0.9,1.0,1.2,1.4,2.0,3.0,5.0,4.6,2.5,1.5,1.4,1.3,1.25,1.2,1.15,1.1,1.05,1.0,1.0];
const r10_ar2 = [1.1,1.0,1.2,1.4,1.6,1.8,2.1,2.0,1.7,1.4,1.1,0.8,0.6,0.45,0.4,0.35,0.4,0.5,0.6,0.7,0.8,0.9,1.1,
  1.3,1.5,2.8,4.0,2.9,3.0,2.4,1.8,1.2,0.85,0.7,0.6,0.5,0.4,0.35,0.3,0.3,0.25,0.25,0.25,0.3,0.35,0.4,
  0.45,0.5,0.55,0.6,0.7,1.2,3.8,4.2,2.4,1.5,1.0,0.85,0.75,0.7,0.7,0.7,0.6,0.5,0.45,0.4,0.35,0.3,0.3,
  0.25,0.25,0.35,0.6,0.8,0.9,1.1,1.3,2.2,3.8,3.9,3.0,2.6,1.6,1.3,1.2,1.1,1.05,1.0,1.2,0.8,0.6,0.5];
const r10_svm = [1.0,1.0,1.2,1.4,1.5,1.8,2.0,1.5,1.7,1.5,1.2,0.9,0.7,0.55,0.45,0.4,0.4,0.45,0.55,0.65,0.8,0.9,1.1,
  1.3,1.5,1.7,2.7,3.1,2.8,2.0,1.6,1.1,0.85,0.7,0.6,0.5,0.4,0.35,0.3,0.3,0.3,0.3,0.3,0.3,0.35,0.4,
  0.45,0.5,0.55,0.6,0.7,1.3,4.4,3.2,2.3,1.5,1.1,0.9,0.8,0.75,0.7,0.7,0.6,0.5,0.45,0.4,0.35,0.35,0.3,
  0.3,0.3,0.4,0.6,0.8,0.9,1.1,1.3,2.2,3.5,4.0,2.8,2.3,1.6,1.3,1.2,1.1,1.05,1.0,1.1,0.8,0.6,0.5];

const regions = [
  {cdc: r1_cdc, gft: r1_gft, lin: r1_lin, ar2: r1_ar2, svm: r1_svm},
  {cdc: r2_cdc, gft: r2_gft, lin: r2_lin, ar2: r2_ar2, svm: r2_svm},
  {cdc: r3_cdc, gft: r3_gft, lin: r3_lin, ar2: r3_ar2, svm: r3_svm},
  {cdc: r4_cdc, gft: r4_gft, lin: r4_lin, ar2: r4_ar2, svm: r4_svm},
  {cdc: r5_cdc, gft: r5_gft, lin: r5_lin, ar2: r5_ar2, svm: r5_svm},
  {cdc: r6_cdc, gft: r6_gft, lin: r6_lin, ar2: r6_ar2, svm: r6_svm},
  {cdc: r7_cdc, gft: r7_gft, lin: r7_lin, ar2: r7_ar2, svm: r7_svm},
  {cdc: r8_cdc, gft: r8_gft, lin: r8_lin, ar2: r8_ar2, svm: r8_svm},
  {cdc: r9_cdc, gft: r9_gft, lin: r9_lin, ar2: r9_ar2, svm: r9_svm},
  {cdc: r10_cdc, gft: r10_gft, lin: r10_lin, ar2: r10_ar2, svm: r10_svm}
];

// styles
const colors = {cdc: "#000000", gft: "#0000ff", lin: "#00cc00", ar2: "#dd33dd", svm: "#ff0000"};
const widths = {cdc: 1.5, gft: 1.0, lin: 1.0, ar2: 1.3, svm: 1.3};
const dashes = {cdc: null, gft: null, lin: null, ar2: "1.6,1.6", svm: null};

// layout
const panelW = 602.3, panelH = 136.7;
const colX = [37.7, 649.7];
const rowTop = 13.3, rowStep = 147.5;

const svg = d3.select("#chart");
const parseDay = d3.timeParse("%Y-%m-%d");
const tickDates = xTickDates.map(parseDay);

let x = d3.scaleTime()
  .domain([new Date(2011, 11, 31), new Date(2015, 6, 1)])
  .range([0, panelW]);
let y = d3.scaleLinear().domain([0, 11]).range([panelH, 0]);

let dates = r1_cdc.map((d, i) => d3.timeDay.offset(startDate, i * stepDays));

let line = d3.line()
  .x((d, i) => x(dates[i]))
  .y(d => y(d));

regions.forEach((reg, idx) => {
  let col = idx % 2;
  let row = Math.floor(idx / 2);
  let bottomRow = row === 4;
  let g = svg.append("g")
    .attr("transform", `translate(${colX[col]},${rowTop + rowStep * row})`);

  svg.append("clipPath").attr("id", "clip" + idx)
    .append("rect").attr("width", panelW).attr("height", panelH);

  let plot = g.append("g").attr("clip-path", `url(#clip${idx})`);
  for (let key of seriesKeys) {
    plot.append("path")
      .attr("d", line(reg[key]))
      .attr("fill", "none")
      .attr("stroke", colors[key])
      .attr("stroke-width", widths[key])
      .attr("stroke-dasharray", dashes[key])
      .attr("stroke-linejoin", "round");
  }

  // ticks pointing inward on all four sides
  let xb = g.append("g").attr("transform", `translate(0,${panelH})`)
    .call(d3.axisBottom(x).tickValues(tickDates).tickSize(-3.5).tickSizeOuter(0)
      .tickPadding(bottomRow ? 2.3 : 2.9)
      .tickFormat((d, i) => xTickLabels[i]));
  xb.selectAll("text").attr("font-size", bottomRow ? 11 : 4).attr("fill", "#000")
    .attr("font-family", "DejaVu Sans");
  g.append("g")
    .call(d3.axisTop(x).tickValues(tickDates).tickSize(-3.5).tickSizeOuter(0).tickFormat(""));

  let yl = g.append("g")
    .call(d3.axisLeft(y).tickValues(yTicks).tickSize(-3.5).tickSizeOuter(0).tickPadding(1.2));
  yl.selectAll("text").attr("font-size", col === 0 ? 11 : 4).attr("fill", "#000")
    .attr("font-family", "DejaVu Sans");
  g.append("g").attr("transform", `translate(${panelW},0)`)
    .call(d3.axisRight(y).tickValues(yTicks).tickSize(-3.5).tickSizeOuter(0).tickFormat(""));

  g.selectAll(".domain").remove();
  g.selectAll(".tick line").attr("stroke", "#000").attr("stroke-width", 0.8);

  g.append("rect")
    .attr("width", panelW).attr("height", panelH)
    .attr("fill", "none").attr("stroke", "#000").attr("stroke-width", 1);

  g.append("text")
    .attr("x", 12.5).attr("y", 27)
    .attr("font-size", 20.5)
    .text(regionNames[idx]);

  if (col === 0) {
    g.append("text")
      .attr("transform", `translate(-11,${panelH / 2 + 2}) rotate(-90)`)
      .attr("text-anchor", "middle")
      .attr("font-size", 17)
      .text("% ILI");
  }
});

// legend inside region 1
let legend = svg.append("g").attr("transform", "translate(294,19)");
legend.append("rect")
  .attr("width", 251).attr("height", 75)
  .attr("fill", "#fff").attr("stroke", "#000").attr("stroke-width", 1);
seriesKeys.forEach((key, i) => {
  let ly = 7 + i * 14.6;
  legend.append("line")
    .attr("x1", 7).attr("x2", 22).attr("y1", ly).attr("y2", ly)
    .attr("stroke", colors[key])
    .attr("stroke-width", widths[key])
    .attr("stroke-dasharray", dashes[key]);
  legend.append("text")
    .attr("x", 31.5).attr("y", ly + 3.4)
    .attr("font-size", 9.8)
    .text(seriesNames[i]);
});
</script>
</body>
</html>
